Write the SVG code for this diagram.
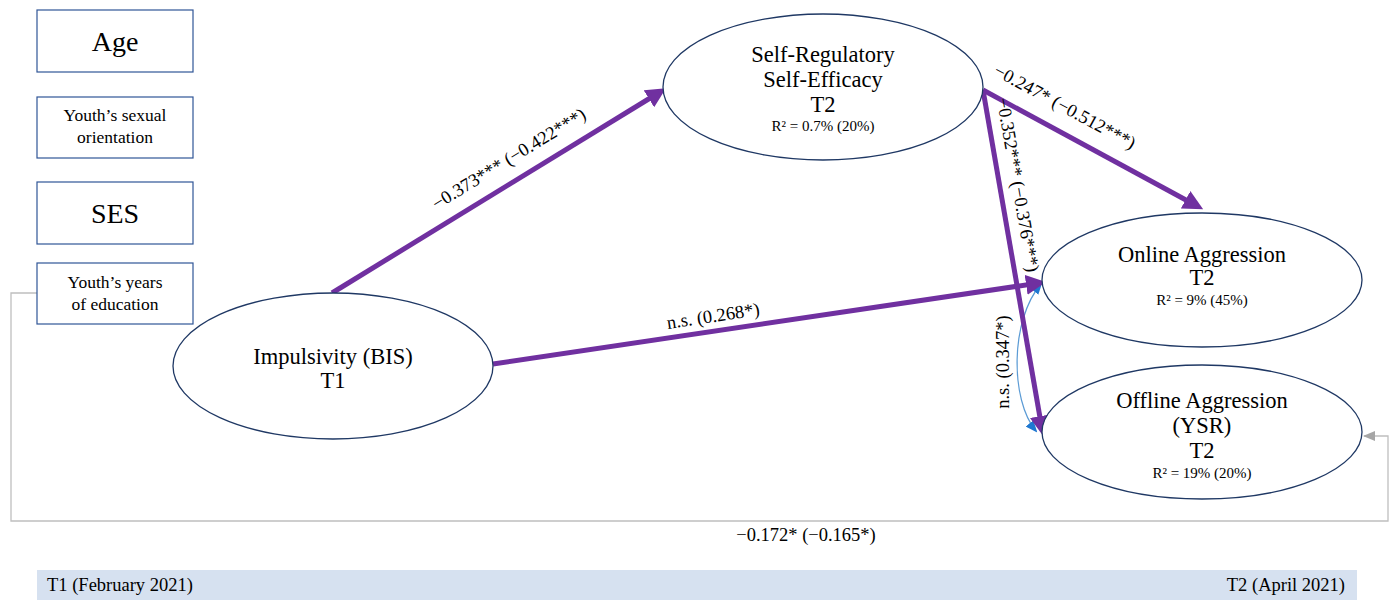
<svg xmlns="http://www.w3.org/2000/svg" width="1392" height="601" viewBox="0 0 1392 601">
<style>
.box{fill:#fff;stroke:#2F5597;stroke-width:1.2}
.ell{fill:#fff;stroke:#1F3864;stroke-width:1.3}
text{font-family:"Liberation Serif","DejaVu Serif",serif;fill:#000}
.big{font-size:28px}
.mid{font-size:17.5px}
.node{font-size:22.5px}
.r2{font-size:15px}
.lab{font-size:18.5px}
.tl{font-size:18.5px}
.path{stroke:#7030A0;stroke-width:5;fill:none}
</style>
<defs>
<marker id="ap" markerWidth="4" markerHeight="4" refX="2.6" refY="2" orient="auto" markerUnits="strokeWidth"><path d="M0,0 L4,2 L0,4 Z" fill="#7030A0"/></marker>
<marker id="ab" markerWidth="12" markerHeight="10" refX="10" refY="5" orient="auto-start-reverse" markerUnits="userSpaceOnUse"><path d="M0,0 L12,5 L0,10 Z" fill="#1F78D1"/></marker>
<marker id="ag" markerWidth="12" markerHeight="10" refX="11" refY="5" orient="auto" markerUnits="userSpaceOnUse"><path d="M0,0 L12,5 L0,10 Z" fill="#A6A6A6"/></marker>
</defs>

<g id="connectors">
<path d="M37,293 H11 V521 H1388 V436 H1364" fill="none" stroke="#BFBFBF" stroke-width="1.3" marker-end="url(#ag)"/>
<path d="M1036,431 C1010,400 1010,320 1041,284" fill="none" stroke="#5B9BD5" stroke-width="1.2" marker-start="url(#ab)" marker-end="url(#ab)"/>
<line class="path" x1="332" y1="293" x2="660" y2="92" marker-end="url(#ap)"/>
<line class="path" x1="493" y1="364" x2="1039" y2="283" marker-end="url(#ap)"/>
<line class="path" x1="983" y1="90" x2="1197" y2="206" marker-end="url(#ap)"/>
<line class="path" x1="983" y1="90" x2="1042" y2="429" marker-end="url(#ap)"/>
<text class="lab" transform="translate(512,164) rotate(-31.5)" text-anchor="middle">−0.373*** (−0.422***)</text>
<text class="lab" transform="translate(714,322) rotate(-8.5)" text-anchor="middle">n.s. (0.268*)</text>
<text class="lab" transform="translate(1062,112) rotate(28.5)" text-anchor="middle">−0.247* (−0.512***)</text>
<text class="lab" transform="translate(1012,186) rotate(80)" text-anchor="middle">−0.352*** (−0.376***)</text>
<text class="lab" transform="translate(1009,362) rotate(-90)" text-anchor="middle">n.s. (0.347*)</text>
<text class="tl" x="806" y="541" text-anchor="middle">−0.172* (−0.165*)</text>
</g>

<g id="age"><rect class="box" x="37" y="10" width="156" height="62"/><text class="big" x="115" y="51" text-anchor="middle">Age</text></g>
<g id="orientation"><rect class="box" x="37" y="97" width="156" height="61"/><text class="mid" x="115" y="121" text-anchor="middle">Youth’s sexual</text><text class="mid" x="115" y="143" text-anchor="middle">orientation</text></g>
<g id="ses"><rect class="box" x="37" y="182" width="156" height="62"/><text class="big" x="115" y="223" text-anchor="middle">SES</text></g>
<g id="education"><rect class="box" x="37" y="263" width="156" height="61"/><text class="mid" x="115" y="288" text-anchor="middle">Youth’s years</text><text class="mid" x="115" y="310" text-anchor="middle">of education</text></g>

<g id="impulsivity"><ellipse class="ell" cx="333" cy="366" rx="160" ry="73"/><text class="node" x="333" y="364" text-anchor="middle">Impulsivity (BIS)</text><text class="node" x="333" y="388" text-anchor="middle">T1</text></g>
<g id="selfreg"><ellipse class="ell" cx="823" cy="87" rx="160" ry="73"/><text class="node" x="823" y="62" text-anchor="middle">Self-Regulatory</text><text class="node" x="823" y="87" text-anchor="middle">Self-Efficacy</text><text class="node" x="823" y="112" text-anchor="middle">T2</text><text class="r2" x="823" y="131" text-anchor="middle">R² = 0.7% (20%)</text></g>
<g id="online"><ellipse class="ell" cx="1202" cy="280" rx="160" ry="67"/><text class="node" x="1202" y="262" text-anchor="middle">Online Aggression</text><text class="node" x="1202" y="285" text-anchor="middle">T2</text><text class="r2" x="1202" y="305" text-anchor="middle">R² = 9% (45%)</text></g>
<g id="offline"><ellipse class="ell" cx="1202" cy="432" rx="160" ry="67"/><text class="node" x="1202" y="408" text-anchor="middle">Offline Aggression</text><text class="node" x="1202" y="433" text-anchor="middle">(YSR)</text><text class="node" x="1202" y="458" text-anchor="middle">T2</text><text class="r2" x="1202" y="478" text-anchor="middle">R² = 19% (20%)</text></g>

<g id="timeline"><rect x="37" y="570" width="1320" height="30" fill="#D6E1F0"/><text class="tl" x="47" y="591">T1 (February 2021)</text><text class="tl" x="1345" y="591" text-anchor="end">T2 (April 2021)</text></g>
</svg>
